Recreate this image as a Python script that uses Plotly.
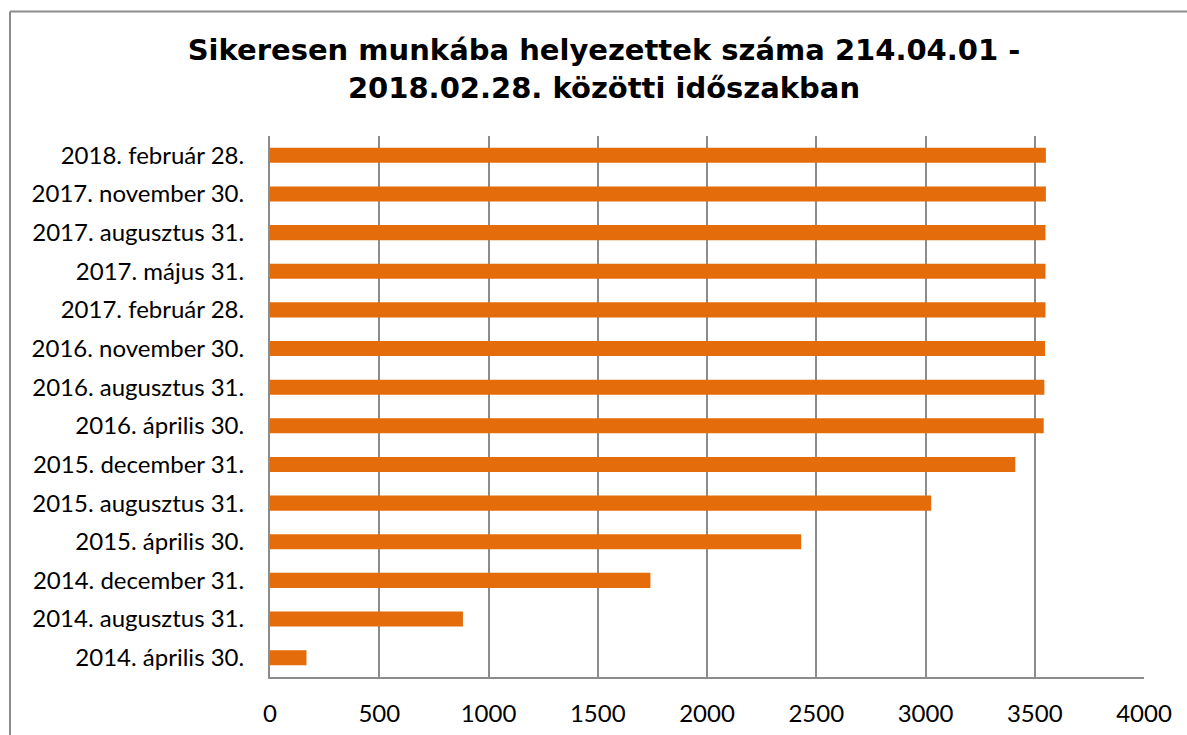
import plotly.graph_objects as go

categories = [
    "2014. április 30.",
    "2014. augusztus 31.",
    "2014. december 31.",
    "2015. április 30.",
    "2015. augusztus 31.",
    "2015. december 31.",
    "2016. április 30.",
    "2016. augusztus 31.",
    "2016. november 30.",
    "2017. február 28.",
    "2017. május 31.",
    "2017. augusztus 31.",
    "2017. november 30.",
    "2018. február 28.",
]
values = [167, 883, 1741, 2431, 3026, 3411, 3541, 3544, 3547, 3549, 3549, 3549, 3551, 3551]
x_ticks = [0, 500, 1000, 1500, 2000, 2500, 3000, 3500, 4000]

title_text = "Sikeresen munkába helyezettek száma 214.04.01 -<br>2018.02.28. közötti időszakban"

fig = go.Figure(
    go.Bar(
        x=values,
        y=categories,
        orientation="h",
        marker=dict(color="#E46C0A", line=dict(width=0)),
    )
)

W, H = 1187, 735
L, R, T, B = 270, 43, 136, 58
PW, PH = W - L - R, H - T - B

grid_col = "#8C8C8C"
fig.update_layout(
    width=W,
    height=H,
    paper_bgcolor="white",
    plot_bgcolor="white",
    margin=dict(l=L, r=R, t=T, b=B, autoexpand=False),
    bargap=0.61,
    showlegend=False,
    title=dict(
        text=title_text,
        xref="container",
        yref="container",
        x=604 / W,
        y=1 - 60 / H,
        xanchor="center",
        yanchor="middle",
        font=dict(family="DejaVu Sans", size=29, color="black", weight="bold"),
    ),
    font=dict(family="Lato", size=24, color="black"),
)
fig.update_xaxes(
    range=[0, 4000],
    tickvals=x_ticks,
    showgrid=True,
    gridcolor=grid_col,
    gridwidth=2,
    zeroline=False,
    showline=True,
    linecolor=grid_col,
    linewidth=2,
    ticks="",
    automargin=False,
    ticklabelstandoff=14,
    tickfont=dict(family="Lato", size=24, color="black"),
)
fig.update_yaxes(
    categoryorder="array",
    categoryarray=categories,
    showgrid=False,
    zeroline=False,
    showline=True,
    linecolor=grid_col,
    linewidth=2,
    ticks="",
    automargin=False,
    ticklabelstandoff=19,
    tickfont=dict(family="Lato", size=24, color="black"),
)

# chart outer frame (left and top edges; the rest lies outside the picture)
fx0 = (10 - L) / PW
fx1 = (W - L) / PW
fy1 = 1 + (T - 11.5) / PH
fig.add_shape(type="line", xref="paper", yref="paper",
              x0=fx0, x1=fx0, y0=-0.2, y1=fy1,
              line=dict(color="#8C8C8C", width=2), layer="below")
fig.add_shape(type="line", xref="paper", yref="paper",
              x0=fx0, x1=fx1, y0=fy1, y1=fy1,
              line=dict(color="#8C8C8C", width=2), layer="below")

fig.write_html(
    "out.html",
    config={"displayModeBar": False},
    post_script="document.body.style.margin='0';document.body.style.overflow='hidden';",
)
